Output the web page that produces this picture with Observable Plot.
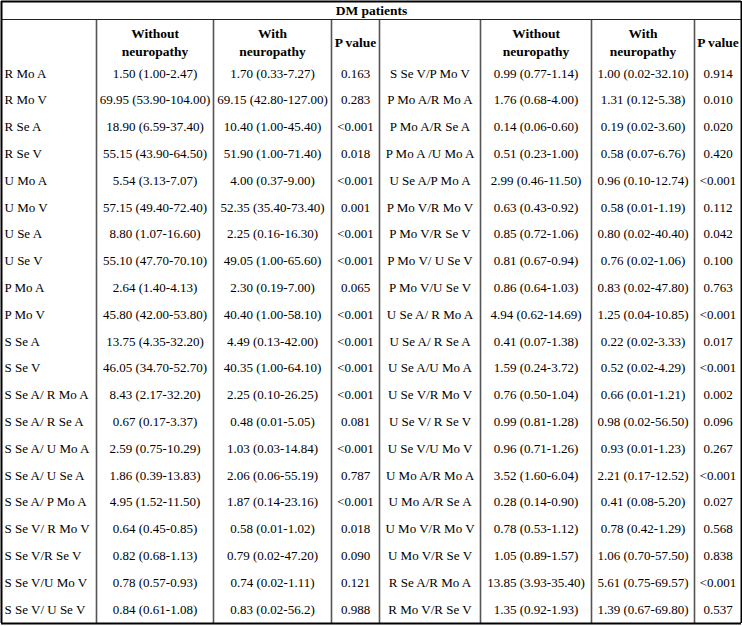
<!DOCTYPE html>
<html>
<head>
<meta charset="utf-8">
<script src="https://cdn.jsdelivr.net/npm/d3@7"></script>
<script src="https://cdn.jsdelivr.net/npm/@observablehq/plot@0.6"></script>
<style>
  html, body { margin: 0; padding: 0; background: #fff; }
</style>
</head>
<body>
<div id="chart"></div>
<script>
// ---- Data ----
const title = "DM patients";
const columnHeaders = ["", "Without\nneuropathy", "With\nneuropathy", "P value"];

const leftLabels = ["R Mo A","R Mo V","R Se A","R Se V","U Mo A","U Mo V","U Se A","U Se V","P Mo A","P Mo V","S Se A","S Se V","S Se A/ R Mo A","S Se A/ R Se A","S Se A/ U Mo A","S Se A/ U Se A","S Se A/ P Mo A","S Se V/ R Mo V","S Se V/R Se V","S Se V/U Mo V","S Se V/ U Se V"];
const leftWithout = ["1.50 (1.00-2.47)","69.95 (53.90-104.00)","18.90 (6.59-37.40)","55.15 (43.90-64.50)","5.54 (3.13-7.07)","57.15 (49.40-72.40)","8.80 (1.07-16.60)","55.10 (47.70-70.10)","2.64 (1.40-4.13)","45.80 (42.00-53.80)","13.75 (4.35-32.20)","46.05 (34.70-52.70)","8.43 (2.17-32.20)","0.67 (0.17-3.37)","2.59 (0.75-10.29)","1.86 (0.39-13.83)","4.95 (1.52-11.50)","0.64 (0.45-0.85)","0.82 (0.68-1.13)","0.78 (0.57-0.93)","0.84 (0.61-1.08)"];
const leftWith = ["1.70 (0.33-7.27)","69.15 (42.80-127.00)","10.40 (1.00-45.40)","51.90 (1.00-71.40)","4.00 (0.37-9.00)","52.35 (35.40-73.40)","2.25 (0.16-16.30)","49.05 (1.00-65.60)","2.30 (0.19-7.00)","40.40 (1.00-58.10)","4.49 (0.13-42.00)","40.35 (1.00-64.10)","2.25 (0.10-26.25)","0.48 (0.01-5.05)","1.03 (0.03-14.84)","2.06 (0.06-55.19)","1.87 (0.14-23.16)","0.58 (0.01-1.02)","0.79 (0.02-47.20)","0.74 (0.02-1.11)","0.83 (0.02-56.2)"];
const leftP = ["0.163","0.283","<0.001","0.018","<0.001","0.001","<0.001","<0.001","0.065","<0.001","<0.001","<0.001","<0.001","0.081","<0.001","0.787","<0.001","0.018","0.090","0.121","0.988"];

const rightLabels = ["S Se V/P Mo V","P Mo A/R Mo A","P Mo A/R Se A","P Mo A /U Mo A","U Se A/P Mo A","P Mo V/R Mo V","P Mo V/R Se V","P Mo V/ U Se V","P Mo V/U Se V","U Se A/ R Mo A","U Se A/ R Se A","U Se A/U Mo A","U Se V/R Mo V","U Se V/ R Se V","U Se V/U Mo V","U Mo A/R Mo A","U Mo A/R Se A","U Mo V/R Mo V","U Mo V/R Se V","R Se A/R Mo A","R Mo V/R Se V"];
const rightWithout = ["0.99 (0.77-1.14)","1.76 (0.68-4.00)","0.14 (0.06-0.60)","0.51 (0.23-1.00)","2.99 (0.46-11.50)","0.63 (0.43-0.92)","0.85 (0.72-1.06)","0.81 (0.67-0.94)","0.86 (0.64-1.03)","4.94 (0.62-14.69)","0.41 (0.07-1.38)","1.59 (0.24-3.72)","0.76 (0.50-1.04)","0.99 (0.81-1.28)","0.96 (0.71-1.26)","3.52 (1.60-6.04)","0.28 (0.14-0.90)","0.78 (0.53-1.12)","1.05 (0.89-1.57)","13.85 (3.93-35.40)","1.35 (0.92-1.93)"];
const rightWith = ["1.00 (0.02-32.10)","1.31 (0.12-5.38)","0.19 (0.02-3.60)","0.58 (0.07-6.76)","0.96 (0.10-12.74)","0.58 (0.01-1.19)","0.80 (0.02-40.40)","0.76 (0.02-1.06)","0.83 (0.02-47.80)","1.25 (0.04-10.85)","0.22 (0.02-3.33)","0.52 (0.02-4.29)","0.66 (0.01-1.21)","0.98 (0.02-56.50)","0.93 (0.01-1.23)","2.21 (0.17-12.52)","0.41 (0.08-5.20)","0.78 (0.42-1.29)","1.06 (0.70-57.50)","5.61 (0.75-69.57)","1.39 (0.67-69.80)"];
const rightP = ["0.914","0.010","0.020","0.420","<0.001","0.112","0.042","0.100","0.763","<0.001","0.017","<0.001","0.002","0.096","0.267","<0.001","0.027","0.568","0.838","<0.001","0.537"];

// ---- Layout ----
const W = 742, H = 626;
const edges = [1, 96, 213, 331, 379, 480, 591, 694, 741];
const topY = 1, titleLineY = 19, bottomY = 623;
const titleY = 10, headerY = 41;
const firstRowY = 73, rowStep = 26.8;
const font = "'Liberation Serif', 'Times New Roman', serif";

const centers = edges.slice(0, -1).map((e, i) => (e + edges[i + 1]) / 2);
const rowY = i => firstRowY + i * rowStep;

const startCells = [];
const midCells = [];
leftLabels.forEach((t, i) => startCells.push({x: edges[0] + 3, y: rowY(i), text: t}));
const cols = [
  [leftWithout, 1], [leftWith, 2], [leftP, 3],
  [rightLabels, 4], [rightWithout, 5], [rightWith, 6], [rightP, 7]
];
cols.forEach(([arr, c]) => arr.forEach((t, i) => midCells.push({x: centers[c], y: rowY(i), text: t})));

const headerCells = [];
[0, 4].forEach(off => {
  columnHeaders.forEach((h, j) => {
    if (h) headerCells.push({x: centers[off + j], y: headerY, text: h});
  });
});

const chart = Plot.plot({
  width: W,
  height: H,
  margin: 0,
  x: {domain: [0, W], range: [0, W], axis: null},
  y: {domain: [0, H], range: [0, H], axis: null},
  style: {fontFamily: font, background: "#fff", color: "#000"},
  marks: [
    // inner vertical lines
    Plot.ruleX(edges.slice(1, -1), {x: d => d, y1: titleLineY, y2: bottomY, stroke: "#555", strokeWidth: 1.6}),
    // horizontal line under title and borders
    Plot.ruleY([titleLineY], {y: d => d, x1: edges[0], x2: edges[edges.length - 1], stroke: "#222", strokeWidth: 1.2}),
    Plot.ruleY([topY, bottomY], {y: d => d, x1: edges[0], x2: edges[edges.length - 1], stroke: "#000", strokeWidth: 2}),
    Plot.ruleX([edges[0], edges[edges.length - 1]], {x: d => d, y1: topY, y2: bottomY, stroke: "#000", strokeWidth: 2}),
    // title
    Plot.text([title], {x: W / 2, y: titleY, text: d => d, fontWeight: "bold", fontSize: 13.5, fill: "#000"}),
    // headers
    Plot.text(headerCells, {x: "x", y: "y", text: "text", fontWeight: "bold", fontSize: 13.5, lineHeight: 1.3, fill: "#000"}),
    // body
    Plot.text(startCells, {x: "x", y: "y", text: "text", textAnchor: "start", fontSize: 13, fill: "#000"}),
    Plot.text(midCells, {x: "x", y: "y", text: "text", textAnchor: "middle", fontSize: 13, fill: "#000"})
  ]
});
document.getElementById("chart").appendChild(chart);
</script>
</body>
</html>
